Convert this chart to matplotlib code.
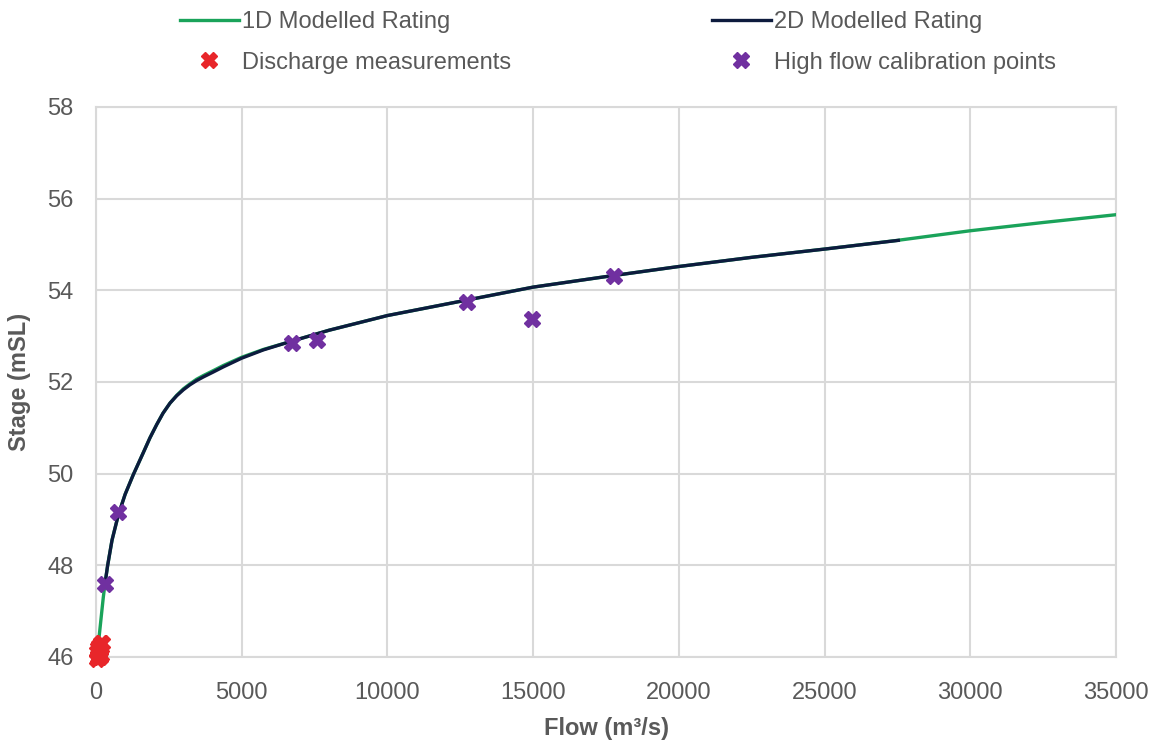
import matplotlib.pyplot as plt

plt.rcParams['font.family'] = ['Liberation Sans', 'DejaVu Sans']

# 1D modelled rating curve
flow_1d = [100, 150, 200, 250, 309, 400, 550, 766, 1000, 1281, 1624, 1850, 2082, 2300,
           2540, 2770, 2997, 3226, 3450, 3683, 4000, 4370, 5000, 5742, 6658, 8000,
           10000, 12500, 15000, 17500, 20000, 22500, 25000, 27500, 30000, 32500, 35000]
stage_1d = [46.4, 46.7, 47.0, 47.3, 47.6, 48.0, 48.55, 49.1, 49.55, 49.98, 50.46, 50.78, 51.07, 51.32,
            51.54, 51.71, 51.85, 51.96, 52.06, 52.14, 52.24, 52.36, 52.54, 52.71, 52.88, 53.13,
            53.45, 53.76, 54.07, 54.3, 54.52, 54.72, 54.9, 55.09, 55.3, 55.48, 55.65]

# 2D modelled rating curve
flow_2d = [309, 400, 550, 766, 1000, 1281, 1624, 1850, 2082, 2300,
           2540, 2770, 2997, 3226, 3450, 3683, 4000, 4370, 5000, 5742, 6658, 8000,
           10000, 12500, 15000, 17500, 20000, 22500, 25000, 27530]
stage_2d = [47.6, 48.0, 48.55, 49.1, 49.55, 49.98, 50.46, 50.78, 51.07, 51.32,
            51.54, 51.7, 51.83, 51.94, 52.03, 52.11, 52.21, 52.33, 52.52, 52.7, 52.88, 53.13,
            53.45, 53.76, 54.07, 54.3, 54.52, 54.72, 54.9, 55.09]

# discharge measurements
flow_meas = [30, 60, 90, 120, 150, 180, 80, 130, 50, 110, 160, 200]
stage_meas = [45.95, 46.0, 46.05, 46.1, 46.15, 46.3, 46.2, 46.0, 46.1, 46.25, 46.05, 46.3]

# high flow calibration points
flow_cal = [309, 766, 6716, 7574, 12720, 14965, 17789]
stage_cal = [47.59, 49.17, 52.85, 52.92, 53.74, 53.38, 54.32]

text_col = '#595959'
grid_col = '#d9d9d9'

fig = plt.figure(figsize=(11.53, 7.42), dpi=100)
ax = fig.add_axes([96 / 1153, 1 - 657 / 742, 1020 / 1153, 550 / 742])

ax.plot(flow_1d, stage_1d, color='#1aa35a', lw=2.4, label='1D Modelled Rating', zorder=3)
ax.plot(flow_meas, stage_meas, ls='', marker='X', ms=11, color='#e8262a',
        label='Discharge measurements', clip_on=False, zorder=5)
ax.plot(flow_2d, stage_2d, color='#0d1b3e', lw=2.4, label='2D Modelled Rating', zorder=4)
ax.plot(flow_cal, stage_cal, ls='', marker='X', ms=11, color='#7030a0',
        label='High flow calibration points', zorder=6)

ax.set_xlim(0, 35000)
ax.set_ylim(46, 58)
ax.set_xticks(range(0, 35001, 5000))
ax.set_yticks(range(46, 59, 2))
ax.grid(True, color=grid_col, lw=1.5)
ax.set_axisbelow(True)
for s in ax.spines.values():
    s.set_color(grid_col)
    s.set_linewidth(1.5)
ax.tick_params(length=0, labelsize=17, labelcolor=text_col)
ax.tick_params(axis='y', pad=16)
ax.tick_params(axis='x', pad=18)

ax.set_xlabel('Flow (m³/s)', fontsize=17, fontweight='bold', color=text_col, labelpad=9)
ax.set_ylabel('Stage (mSL)', fontsize=17, fontweight='bold', color=text_col, labelpad=12)

fig.legend(loc='upper center', bbox_to_anchor=(618 / 1153, 1.0135), ncol=2, frameon=False,
           fontsize=17, labelcolor=text_col, handlelength=2.5, handletextpad=0.15,
           columnspacing=8.5, labelspacing=0.78)

fig.savefig('out.png', dpi=100)
